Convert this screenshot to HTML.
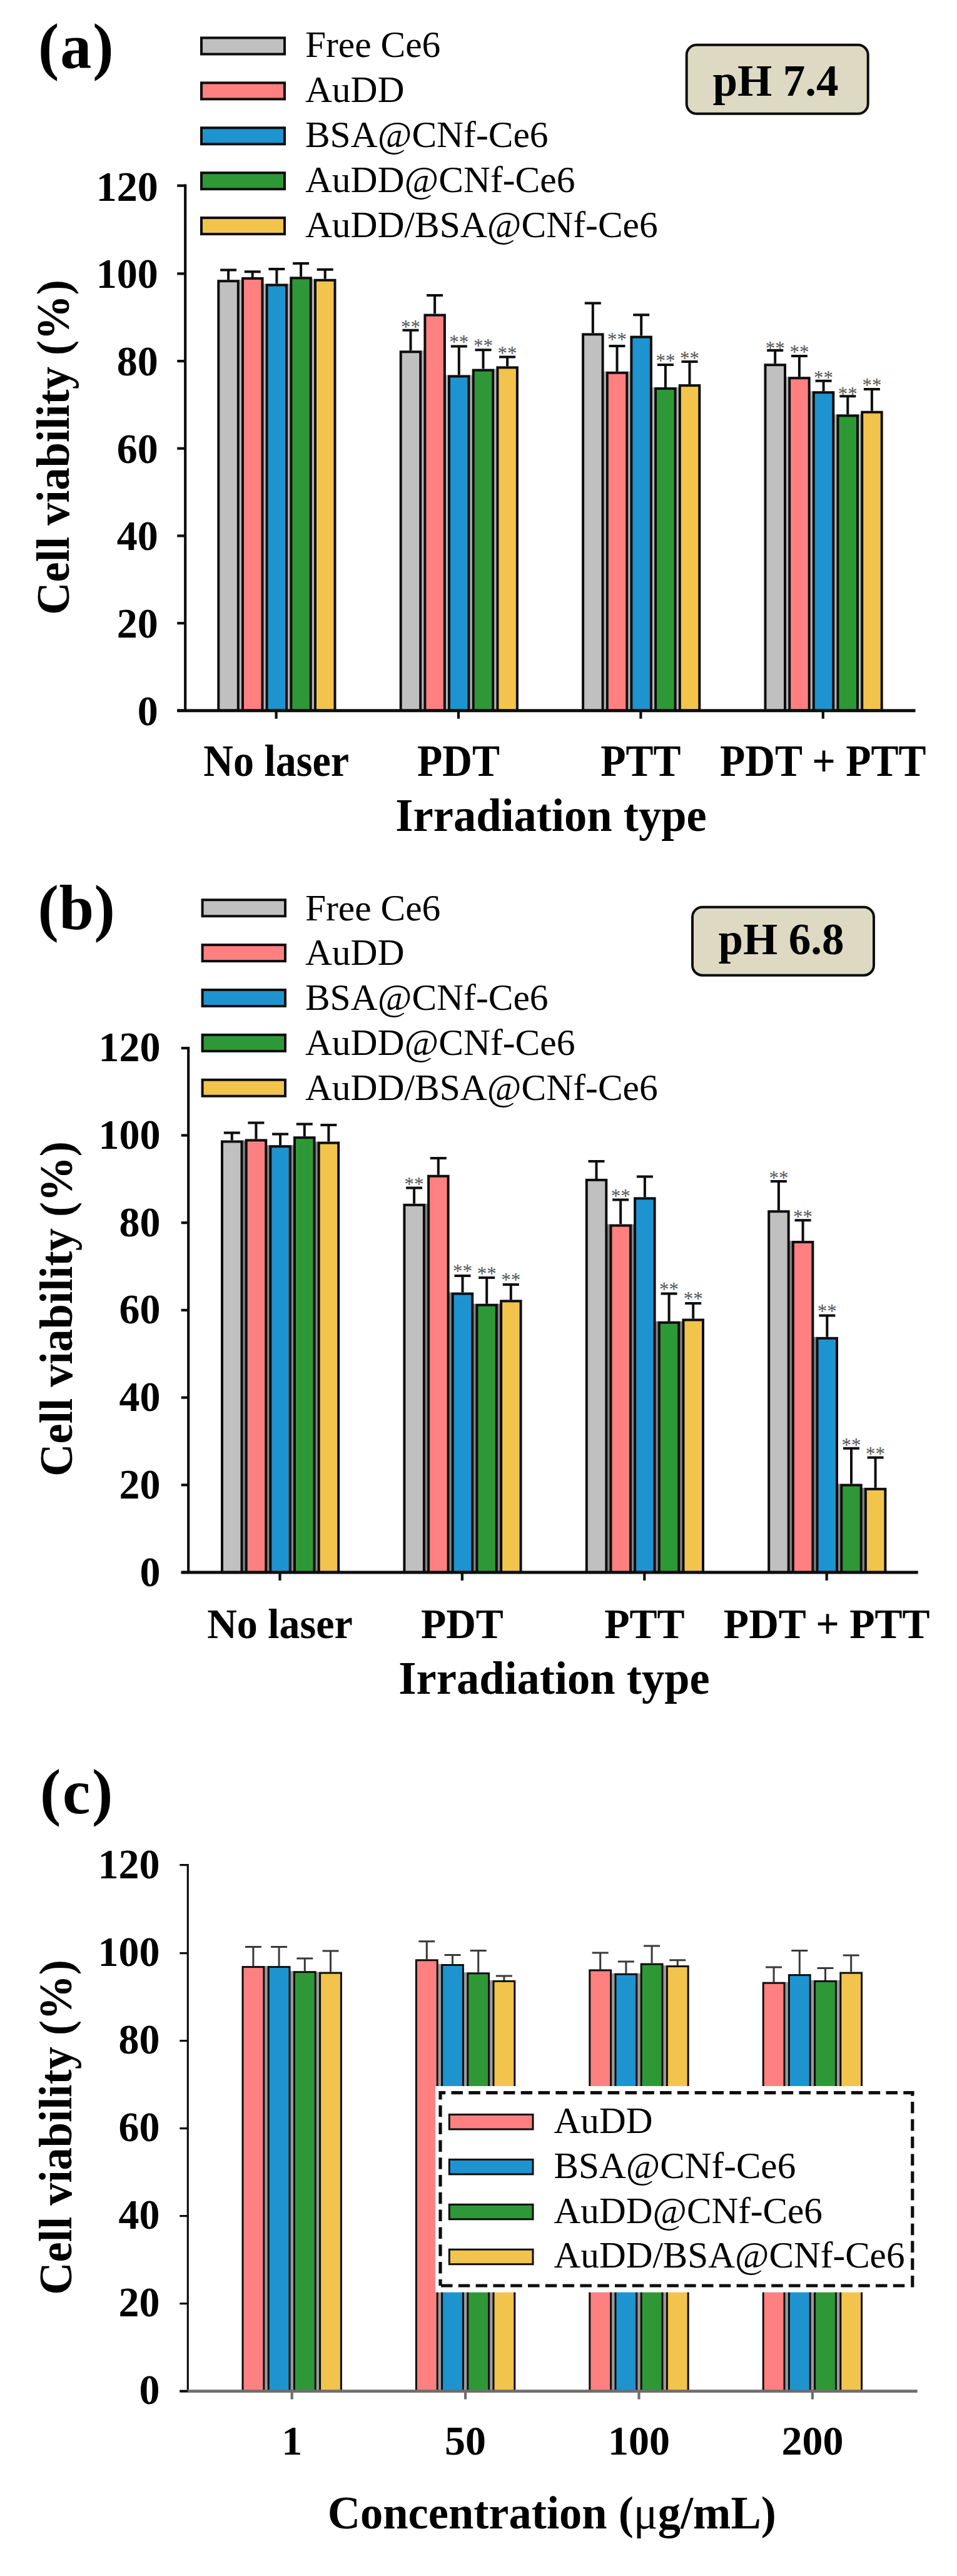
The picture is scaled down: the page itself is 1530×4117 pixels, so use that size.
<!DOCTYPE html>
<html><head><meta charset="utf-8"><title>Figure</title>
<style>
html,body{margin:0;padding:0;background:#fff}
svg{display:block}
text{font-family:"Liberation Serif",serif;fill:#000}
.tk{font-weight:bold;font-size:66px}
.ti{font-weight:bold;font-size:72.5px}
.pl{font-weight:bold;font-size:100px}
.lg{font-size:59.5px}
.ph{font-weight:bold;font-size:71px}
.st{font-size:31px;fill:#555}
.mu{font-weight:normal}
</style></head><body>
<svg width="1530" height="4117" viewBox="0 0 1530 4117">
<rect width="1530" height="4117" fill="#fff"/>
<rect x="382.3" y="447.2" width="4.2" height="688.5" fill="#b4b4b4"/>
<rect x="421.0" y="453.5" width="4.2" height="682.2" fill="#b4b4b4"/>
<rect x="459.6" y="453.5" width="4.2" height="682.2" fill="#b4b4b4"/>
<rect x="498.3" y="445.8" width="4.2" height="689.9" fill="#b4b4b4"/>
<path d="M365.1 447.2V431.4M352.1 431.4H378.1" stroke="#0d0d0d" stroke-width="4.0" fill="none"/>
<rect x="349.3" y="449.2" width="31.5" height="686.5" fill="#C0C0C0" stroke="#0d0d0d" stroke-width="4.0"/>
<path d="M403.7 443.0V434.2M390.7 434.2H416.7" stroke="#0d0d0d" stroke-width="4.0" fill="none"/>
<rect x="388.0" y="445.0" width="31.5" height="690.7" fill="#FF8080" stroke="#0d0d0d" stroke-width="4.0"/>
<path d="M442.4 453.5V430.0M429.4 430.0H455.4" stroke="#0d0d0d" stroke-width="4.0" fill="none"/>
<rect x="426.6" y="455.5" width="31.5" height="680.2" fill="#1D94D0" stroke="#0d0d0d" stroke-width="4.0"/>
<path d="M481.1 442.3V420.9M468.1 420.9H494.1" stroke="#0d0d0d" stroke-width="4.0" fill="none"/>
<rect x="465.3" y="444.3" width="31.5" height="691.4" fill="#2E9836" stroke="#0d0d0d" stroke-width="4.0"/>
<path d="M519.7 445.8V430.7M506.7 430.7H532.7" stroke="#0d0d0d" stroke-width="4.0" fill="none"/>
<rect x="504.0" y="447.8" width="31.5" height="687.9" fill="#F2C44C" stroke="#0d0d0d" stroke-width="4.0"/>
<rect x="673.7" y="560.3" width="4.2" height="575.4" fill="#b4b4b4"/>
<rect x="712.4" y="599.4" width="4.2" height="536.3" fill="#b4b4b4"/>
<rect x="751.0" y="599.4" width="4.2" height="536.3" fill="#b4b4b4"/>
<rect x="789.7" y="589.6" width="4.2" height="546.1" fill="#b4b4b4"/>
<path d="M656.5 560.3V527.8M643.5 527.8H669.5" stroke="#0d0d0d" stroke-width="4.0" fill="none"/>
<rect x="640.7" y="562.3" width="31.5" height="573.4" fill="#C0C0C0" stroke="#0d0d0d" stroke-width="4.0"/>
<text class="st" x="656.5" y="533.4" text-anchor="middle">**</text>
<path d="M695.1 501.6V471.9M682.1 471.9H708.1" stroke="#0d0d0d" stroke-width="4.0" fill="none"/>
<rect x="679.4" y="503.6" width="31.5" height="632.1" fill="#FF8080" stroke="#0d0d0d" stroke-width="4.0"/>
<path d="M733.8 599.4V553.6M720.8 553.6H746.8" stroke="#0d0d0d" stroke-width="4.0" fill="none"/>
<rect x="718.0" y="601.4" width="31.5" height="534.3" fill="#1D94D0" stroke="#0d0d0d" stroke-width="4.0"/>
<text class="st" x="733.8" y="557.1" text-anchor="middle">**</text>
<path d="M772.5 589.6V559.2M759.5 559.2H785.5" stroke="#0d0d0d" stroke-width="4.0" fill="none"/>
<rect x="756.7" y="591.6" width="31.5" height="544.1" fill="#2E9836" stroke="#0d0d0d" stroke-width="4.0"/>
<text class="st" x="772.5" y="563.1" text-anchor="middle">**</text>
<path d="M811.1 585.4V570.4M798.1 570.4H824.1" stroke="#0d0d0d" stroke-width="4.0" fill="none"/>
<rect x="795.4" y="587.4" width="31.5" height="548.3" fill="#F2C44C" stroke="#0d0d0d" stroke-width="4.0"/>
<text class="st" x="811.1" y="575.1" text-anchor="middle">**</text>
<rect x="965.1" y="593.8" width="4.2" height="541.9" fill="#b4b4b4"/>
<rect x="1003.8" y="593.8" width="4.2" height="541.9" fill="#b4b4b4"/>
<rect x="1042.4" y="619.0" width="4.2" height="516.7" fill="#b4b4b4"/>
<rect x="1081.1" y="619.0" width="4.2" height="516.7" fill="#b4b4b4"/>
<path d="M947.8 532.4V484.5M934.8 484.5H960.8" stroke="#0d0d0d" stroke-width="4.0" fill="none"/>
<rect x="932.1" y="534.4" width="31.5" height="601.3" fill="#C0C0C0" stroke="#0d0d0d" stroke-width="4.0"/>
<path d="M986.5 593.8V552.9M973.5 552.9H999.5" stroke="#0d0d0d" stroke-width="4.0" fill="none"/>
<rect x="970.8" y="595.8" width="31.5" height="539.9" fill="#FF8080" stroke="#0d0d0d" stroke-width="4.0"/>
<text class="st" x="986.5" y="553.4" text-anchor="middle">**</text>
<path d="M1025.2 536.6V503.3M1012.2 503.3H1038.2" stroke="#0d0d0d" stroke-width="4.0" fill="none"/>
<rect x="1009.4" y="538.6" width="31.5" height="597.1" fill="#1D94D0" stroke="#0d0d0d" stroke-width="4.0"/>
<path d="M1063.9 619.0V582.9M1050.9 582.9H1076.9" stroke="#0d0d0d" stroke-width="4.0" fill="none"/>
<rect x="1048.1" y="621.0" width="31.5" height="514.7" fill="#2E9836" stroke="#0d0d0d" stroke-width="4.0"/>
<text class="st" x="1063.9" y="586.8" text-anchor="middle">**</text>
<path d="M1102.5 614.1V578.1M1089.5 578.1H1115.5" stroke="#0d0d0d" stroke-width="4.0" fill="none"/>
<rect x="1086.8" y="616.1" width="31.5" height="519.6" fill="#F2C44C" stroke="#0d0d0d" stroke-width="4.0"/>
<text class="st" x="1102.5" y="582.8" text-anchor="middle">**</text>
<rect x="1256.5" y="602.2" width="4.2" height="533.5" fill="#b4b4b4"/>
<rect x="1295.2" y="625.2" width="4.2" height="510.5" fill="#b4b4b4"/>
<rect x="1333.8" y="662.3" width="4.2" height="473.4" fill="#b4b4b4"/>
<rect x="1372.5" y="662.3" width="4.2" height="473.4" fill="#b4b4b4"/>
<path d="M1239.2 581.2V559.9M1226.2 559.9H1252.2" stroke="#0d0d0d" stroke-width="4.0" fill="none"/>
<rect x="1223.5" y="583.2" width="31.5" height="552.5" fill="#C0C0C0" stroke="#0d0d0d" stroke-width="4.0"/>
<text class="st" x="1239.2" y="567.1" text-anchor="middle">**</text>
<path d="M1277.9 602.2V569.0M1264.9 569.0H1290.9" stroke="#0d0d0d" stroke-width="4.0" fill="none"/>
<rect x="1262.2" y="604.2" width="31.5" height="531.5" fill="#FF8080" stroke="#0d0d0d" stroke-width="4.0"/>
<text class="st" x="1277.9" y="573.3" text-anchor="middle">**</text>
<path d="M1316.6 625.2V608.8M1303.6 608.8H1329.6" stroke="#0d0d0d" stroke-width="4.0" fill="none"/>
<rect x="1300.8" y="627.2" width="31.5" height="508.5" fill="#1D94D0" stroke="#0d0d0d" stroke-width="4.0"/>
<text class="st" x="1316.6" y="613.5" text-anchor="middle">**</text>
<path d="M1355.3 662.3V633.2M1342.3 633.2H1368.3" stroke="#0d0d0d" stroke-width="4.0" fill="none"/>
<rect x="1339.5" y="664.3" width="31.5" height="471.4" fill="#2E9836" stroke="#0d0d0d" stroke-width="4.0"/>
<text class="st" x="1355.3" y="640.4" text-anchor="middle">**</text>
<path d="M1393.9 656.7V622.1M1380.9 622.1H1406.9" stroke="#0d0d0d" stroke-width="4.0" fill="none"/>
<rect x="1378.2" y="658.7" width="31.5" height="477.0" fill="#F2C44C" stroke="#0d0d0d" stroke-width="4.0"/>
<text class="st" x="1393.9" y="626.0" text-anchor="middle">**</text>
<path d="M296.2 294.6V1137.8" stroke="#0d0d0d" stroke-width="4.2" fill="none"/>
<path d="M283.2 1135.7H1463.5" stroke="#0d0d0d" stroke-width="5.0" fill="none"/>
<path d="M283.2 1135.7H296.2" stroke="#0d0d0d" stroke-width="4.2" fill="none"/>
<text class="tk" transform="translate(252.8 1158.7) scale(1.0 1.04)" text-anchor="end">0</text>
<path d="M283.2 996.0H296.2" stroke="#0d0d0d" stroke-width="4.2" fill="none"/>
<text class="tk" transform="translate(252.8 1019.0) scale(1.0 1.04)" text-anchor="end">20</text>
<path d="M283.2 856.4H296.2" stroke="#0d0d0d" stroke-width="4.2" fill="none"/>
<text class="tk" transform="translate(252.8 879.4) scale(1.0 1.04)" text-anchor="end">40</text>
<path d="M283.2 716.7H296.2" stroke="#0d0d0d" stroke-width="4.2" fill="none"/>
<text class="tk" transform="translate(252.8 739.7) scale(1.0 1.04)" text-anchor="end">60</text>
<path d="M283.2 577.1H296.2" stroke="#0d0d0d" stroke-width="4.2" fill="none"/>
<text class="tk" transform="translate(252.8 600.1) scale(1.0 1.04)" text-anchor="end">80</text>
<path d="M283.2 437.4H296.2" stroke="#0d0d0d" stroke-width="4.2" fill="none"/>
<text class="tk" transform="translate(252.8 460.4) scale(1.0 1.04)" text-anchor="end">100</text>
<path d="M283.2 296.7H296.2" stroke="#0d0d0d" stroke-width="4.2" fill="none"/>
<text class="tk" transform="translate(252.8 320.7) scale(1.0 1.04)" text-anchor="end">120</text>
<path d="M441.6 1135.7V1148.7" stroke="#0d0d0d" stroke-width="4.2" fill="none"/>
<text class="tk" transform="translate(441.6 1239.8) scale(1.0 1.075)" text-anchor="middle">No laser</text>
<path d="M733.0 1135.7V1148.7" stroke="#0d0d0d" stroke-width="4.2" fill="none"/>
<text class="tk" transform="translate(733.0 1239.8) scale(1.0 1.075)" text-anchor="middle">PDT</text>
<path d="M1024.4 1135.7V1148.7" stroke="#0d0d0d" stroke-width="4.2" fill="none"/>
<text class="tk" transform="translate(1024.4 1239.8) scale(1.0 1.075)" text-anchor="middle">PTT</text>
<path d="M1315.8 1135.7V1148.7" stroke="#0d0d0d" stroke-width="4.2" fill="none"/>
<text class="tk" transform="translate(1315.8 1239.8) scale(1.0 1.075)" text-anchor="middle">PDT + PTT</text>
<text class="ti" transform="translate(881.0 1327.7) scale(1.0 1.035)" text-anchor="middle">Irradiation type</text>
<text class="ti" transform="translate(110.0 715.0) rotate(-90) scale(1.0 1.035)" text-anchor="middle">Cell viability (%)</text>
<text class="pl" transform="translate(61 108) scale(1 1.02)" letter-spacing="2">(a)</text>
<rect x="322.0" y="60.5" width="133.0" height="26.0" fill="#C0C0C0" stroke="#0d0d0d" stroke-width="4.0"/>
<text class="lg" x="487.9" y="91.4">Free Ce6</text>
<rect x="322.0" y="132.4" width="133.0" height="26.0" fill="#FF8080" stroke="#0d0d0d" stroke-width="4.0"/>
<text class="lg" x="487.9" y="163.3">AuDD</text>
<rect x="322.0" y="204.3" width="133.0" height="26.0" fill="#1D94D0" stroke="#0d0d0d" stroke-width="4.0"/>
<text class="lg" x="487.9" y="235.2">BSA@CNf-Ce6</text>
<rect x="322.0" y="276.2" width="133.0" height="26.0" fill="#2E9836" stroke="#0d0d0d" stroke-width="4.0"/>
<text class="lg" x="487.9" y="307.1">AuDD@CNf-Ce6</text>
<rect x="322.0" y="348.1" width="133.0" height="26.0" fill="#F2C44C" stroke="#0d0d0d" stroke-width="4.0"/>
<text class="lg" x="487.9" y="379.0">AuDD/BSA@CNf-Ce6</text>
<rect x="1097.7" y="71.8" width="290" height="110" rx="16" ry="16" fill="#DDD9C3" stroke="#0d0d0d" stroke-width="4"/>
<text class="ph" x="1240" y="153" text-anchor="middle">pH 7.4</text>
<rect x="388.0" y="1822.5" width="4.2" height="690.5" fill="#858585"/>
<rect x="426.7" y="1830.2" width="4.2" height="682.8" fill="#858585"/>
<rect x="465.3" y="1830.2" width="4.2" height="682.8" fill="#858585"/>
<rect x="504.0" y="1824.6" width="4.2" height="688.4" fill="#858585"/>
<path d="M370.8 1822.5V1810.5M357.8 1810.5H383.8" stroke="#0d0d0d" stroke-width="4.0" fill="none"/>
<rect x="355.0" y="1824.5" width="31.5" height="688.5" fill="#C0C0C0" stroke="#0d0d0d" stroke-width="4.0"/>
<path d="M409.4 1820.4V1794.4M396.4 1794.4H422.4" stroke="#0d0d0d" stroke-width="4.0" fill="none"/>
<rect x="393.7" y="1822.4" width="31.5" height="690.6" fill="#FF8080" stroke="#0d0d0d" stroke-width="4.0"/>
<path d="M448.1 1830.2V1812.6M435.1 1812.6H461.1" stroke="#0d0d0d" stroke-width="4.0" fill="none"/>
<rect x="432.3" y="1832.2" width="31.5" height="680.8" fill="#1D94D0" stroke="#0d0d0d" stroke-width="4.0"/>
<path d="M486.8 1816.2V1796.5M473.8 1796.5H499.8" stroke="#0d0d0d" stroke-width="4.0" fill="none"/>
<rect x="471.0" y="1818.2" width="31.5" height="694.8" fill="#2E9836" stroke="#0d0d0d" stroke-width="4.0"/>
<path d="M525.4 1824.6V1797.9M512.4 1797.9H538.4" stroke="#0d0d0d" stroke-width="4.0" fill="none"/>
<rect x="509.7" y="1826.6" width="31.5" height="686.4" fill="#F2C44C" stroke="#0d0d0d" stroke-width="4.0"/>
<rect x="679.4" y="1923.8" width="4.2" height="589.2" fill="#858585"/>
<rect x="718.1" y="2065.6" width="4.2" height="447.4" fill="#858585"/>
<rect x="756.7" y="2083.7" width="4.2" height="429.3" fill="#858585"/>
<rect x="795.4" y="2083.7" width="4.2" height="429.3" fill="#858585"/>
<path d="M662.1 1923.8V1898.5M649.1 1898.5H675.1" stroke="#0d0d0d" stroke-width="4.0" fill="none"/>
<rect x="646.4" y="1925.8" width="31.5" height="587.2" fill="#C0C0C0" stroke="#0d0d0d" stroke-width="4.0"/>
<text class="st" x="662.1" y="1902.8" text-anchor="middle">**</text>
<path d="M700.8 1877.7V1851.0M687.8 1851.0H713.8" stroke="#0d0d0d" stroke-width="4.0" fill="none"/>
<rect x="685.1" y="1879.7" width="31.5" height="633.3" fill="#FF8080" stroke="#0d0d0d" stroke-width="4.0"/>
<path d="M739.5 2065.6V2038.9M726.5 2038.9H752.5" stroke="#0d0d0d" stroke-width="4.0" fill="none"/>
<rect x="723.7" y="2067.6" width="31.5" height="445.4" fill="#1D94D0" stroke="#0d0d0d" stroke-width="4.0"/>
<text class="st" x="739.5" y="2042.4" text-anchor="middle">**</text>
<path d="M778.2 2083.7V2042.1M765.2 2042.1H791.2" stroke="#0d0d0d" stroke-width="4.0" fill="none"/>
<rect x="762.4" y="2085.7" width="31.5" height="427.3" fill="#2E9836" stroke="#0d0d0d" stroke-width="4.0"/>
<text class="st" x="778.2" y="2046.0" text-anchor="middle">**</text>
<path d="M816.8 2077.4V2052.9M803.8 2052.9H829.8" stroke="#0d0d0d" stroke-width="4.0" fill="none"/>
<rect x="801.1" y="2079.4" width="31.5" height="433.6" fill="#F2C44C" stroke="#0d0d0d" stroke-width="4.0"/>
<text class="st" x="816.8" y="2055.5" text-anchor="middle">**</text>
<rect x="970.8" y="1956.6" width="4.2" height="556.4" fill="#858585"/>
<rect x="1009.5" y="1956.6" width="4.2" height="556.4" fill="#858585"/>
<rect x="1048.1" y="2111.7" width="4.2" height="401.3" fill="#858585"/>
<rect x="1086.8" y="2111.7" width="4.2" height="401.3" fill="#858585"/>
<path d="M953.5 1883.9V1856.1M940.5 1856.1H966.5" stroke="#0d0d0d" stroke-width="4.0" fill="none"/>
<rect x="937.8" y="1885.9" width="31.5" height="627.1" fill="#C0C0C0" stroke="#0d0d0d" stroke-width="4.0"/>
<path d="M992.2 1956.6V1917.4M979.2 1917.4H1005.2" stroke="#0d0d0d" stroke-width="4.0" fill="none"/>
<rect x="976.5" y="1958.6" width="31.5" height="554.4" fill="#FF8080" stroke="#0d0d0d" stroke-width="4.0"/>
<text class="st" x="992.2" y="1922.1" text-anchor="middle">**</text>
<path d="M1030.9 1913.3V1880.4M1017.9 1880.4H1043.9" stroke="#0d0d0d" stroke-width="4.0" fill="none"/>
<rect x="1015.1" y="1915.3" width="31.5" height="597.7" fill="#1D94D0" stroke="#0d0d0d" stroke-width="4.0"/>
<path d="M1069.6 2111.7V2067.6M1056.6 2067.6H1082.6" stroke="#0d0d0d" stroke-width="4.0" fill="none"/>
<rect x="1053.8" y="2113.7" width="31.5" height="399.3" fill="#2E9836" stroke="#0d0d0d" stroke-width="4.0"/>
<text class="st" x="1069.6" y="2071.1" text-anchor="middle">**</text>
<path d="M1108.2 2107.5V2082.9M1095.2 2082.9H1121.2" stroke="#0d0d0d" stroke-width="4.0" fill="none"/>
<rect x="1092.5" y="2109.5" width="31.5" height="403.5" fill="#F2C44C" stroke="#0d0d0d" stroke-width="4.0"/>
<text class="st" x="1108.2" y="2086.4" text-anchor="middle">**</text>
<rect x="1262.2" y="1983.1" width="4.2" height="529.9" fill="#858585"/>
<rect x="1300.9" y="2136.8" width="4.2" height="376.2" fill="#858585"/>
<rect x="1339.5" y="2371.5" width="4.2" height="141.5" fill="#858585"/>
<rect x="1378.2" y="2377.8" width="4.2" height="135.2" fill="#858585"/>
<path d="M1244.9 1934.2V1888.0M1231.9 1888.0H1257.9" stroke="#0d0d0d" stroke-width="4.0" fill="none"/>
<rect x="1229.2" y="1936.2" width="31.5" height="576.8" fill="#C0C0C0" stroke="#0d0d0d" stroke-width="4.0"/>
<text class="st" x="1244.9" y="1892.7" text-anchor="middle">**</text>
<path d="M1283.6 1983.1V1950.2M1270.6 1950.2H1296.6" stroke="#0d0d0d" stroke-width="4.0" fill="none"/>
<rect x="1267.9" y="1985.1" width="31.5" height="527.9" fill="#FF8080" stroke="#0d0d0d" stroke-width="4.0"/>
<text class="st" x="1283.6" y="1955.3" text-anchor="middle">**</text>
<path d="M1322.3 2136.8V2102.5M1309.3 2102.5H1335.3" stroke="#0d0d0d" stroke-width="4.0" fill="none"/>
<rect x="1306.5" y="2138.8" width="31.5" height="374.2" fill="#1D94D0" stroke="#0d0d0d" stroke-width="4.0"/>
<text class="st" x="1322.3" y="2106.4" text-anchor="middle">**</text>
<path d="M1361.0 2371.5V2314.8M1348.0 2314.8H1374.0" stroke="#0d0d0d" stroke-width="4.0" fill="none"/>
<rect x="1345.2" y="2373.5" width="31.5" height="139.5" fill="#2E9836" stroke="#0d0d0d" stroke-width="4.0"/>
<text class="st" x="1361.0" y="2320.4" text-anchor="middle">**</text>
<path d="M1399.6 2377.8V2329.5M1386.6 2329.5H1412.6" stroke="#0d0d0d" stroke-width="4.0" fill="none"/>
<rect x="1383.9" y="2379.8" width="31.5" height="133.2" fill="#F2C44C" stroke="#0d0d0d" stroke-width="4.0"/>
<text class="st" x="1399.6" y="2334.2" text-anchor="middle">**</text>
<path d="M301.2 1673.0V2515.1" stroke="#0d0d0d" stroke-width="4.2" fill="none"/>
<path d="M289.7 2513.0H1467.7" stroke="#0d0d0d" stroke-width="5.0" fill="none"/>
<path d="M289.7 2513.0H301.2" stroke="#0d0d0d" stroke-width="4.2" fill="none"/>
<text class="tk" transform="translate(256.5 2534.5) scale(1.0 1.04)" text-anchor="end">0</text>
<path d="M289.7 2373.3H301.2" stroke="#0d0d0d" stroke-width="4.2" fill="none"/>
<text class="tk" transform="translate(256.5 2394.8) scale(1.0 1.04)" text-anchor="end">20</text>
<path d="M289.7 2233.6H301.2" stroke="#0d0d0d" stroke-width="4.2" fill="none"/>
<text class="tk" transform="translate(256.5 2255.1) scale(1.0 1.04)" text-anchor="end">40</text>
<path d="M289.7 2093.9H301.2" stroke="#0d0d0d" stroke-width="4.2" fill="none"/>
<text class="tk" transform="translate(256.5 2115.4) scale(1.0 1.04)" text-anchor="end">60</text>
<path d="M289.7 1954.2H301.2" stroke="#0d0d0d" stroke-width="4.2" fill="none"/>
<text class="tk" transform="translate(256.5 1975.7) scale(1.0 1.04)" text-anchor="end">80</text>
<path d="M289.7 1814.5H301.2" stroke="#0d0d0d" stroke-width="4.2" fill="none"/>
<text class="tk" transform="translate(256.5 1836.0) scale(1.0 1.04)" text-anchor="end">100</text>
<path d="M289.7 1675.1H301.2" stroke="#0d0d0d" stroke-width="4.2" fill="none"/>
<text class="tk" transform="translate(256.5 1696.3) scale(1.0 1.04)" text-anchor="end">120</text>
<path d="M447.5 2513.0V2526.0" stroke="#0d0d0d" stroke-width="4.2" fill="none"/>
<text class="tk" transform="translate(447.5 2618.2) scale(1.0 1.03)" text-anchor="middle">No laser</text>
<path d="M738.9 2513.0V2526.0" stroke="#0d0d0d" stroke-width="4.2" fill="none"/>
<text class="tk" transform="translate(738.9 2618.2) scale(1.0 1.03)" text-anchor="middle">PDT</text>
<path d="M1030.3 2513.0V2526.0" stroke="#0d0d0d" stroke-width="4.2" fill="none"/>
<text class="tk" transform="translate(1030.3 2618.2) scale(1.0 1.03)" text-anchor="middle">PTT</text>
<path d="M1321.7 2513.0V2526.0" stroke="#0d0d0d" stroke-width="4.2" fill="none"/>
<text class="tk" transform="translate(1321.7 2618.2) scale(1.0 1.03)" text-anchor="middle">PDT + PTT</text>
<text class="ti" transform="translate(886.0 2707.0) scale(1.0 1.035)" text-anchor="middle">Irradiation type</text>
<text class="ti" transform="translate(114.5 2092.0) rotate(-90) scale(1.0 1.035)" text-anchor="middle">Cell viability (%)</text>
<text class="pl" transform="translate(60.5 1485) scale(1 1.02)" letter-spacing="0.6">(b)</text>
<rect x="323.6" y="1438.2" width="132.4" height="26.0" fill="#C0C0C0" stroke="#0d0d0d" stroke-width="4.0"/>
<text class="lg" x="487.9" y="1470.5">Free Ce6</text>
<rect x="323.6" y="1510.1" width="132.4" height="26.0" fill="#FF8080" stroke="#0d0d0d" stroke-width="4.0"/>
<text class="lg" x="487.9" y="1542.4">AuDD</text>
<rect x="323.6" y="1582.0" width="132.4" height="26.0" fill="#1D94D0" stroke="#0d0d0d" stroke-width="4.0"/>
<text class="lg" x="487.9" y="1614.3">BSA@CNf-Ce6</text>
<rect x="323.6" y="1653.9" width="132.4" height="26.0" fill="#2E9836" stroke="#0d0d0d" stroke-width="4.0"/>
<text class="lg" x="487.9" y="1686.2">AuDD@CNf-Ce6</text>
<rect x="323.6" y="1725.8" width="132.4" height="26.0" fill="#F2C44C" stroke="#0d0d0d" stroke-width="4.0"/>
<text class="lg" x="487.9" y="1758.1">AuDD/BSA@CNf-Ce6</text>
<rect x="1107" y="1449.7" width="290" height="109" rx="16" ry="16" fill="#DDD9C3" stroke="#0d0d0d" stroke-width="4"/>
<text class="ph" x="1249" y="1524.5" text-anchor="middle">pH 6.8</text>
<rect x="422.8" y="3142.1" width="5.4" height="679.5" fill="#9a9a9a"/>
<rect x="464.0" y="3150.2" width="5.4" height="671.4" fill="#9a9a9a"/>
<rect x="505.2" y="3151.6" width="5.4" height="670.0" fill="#9a9a9a"/>
<path d="M404.9 3142.1V3111.4M391.9 3111.4H417.9" stroke="#3a3a3a" stroke-width="3.0" fill="none"/>
<rect x="388.0" y="3143.6" width="33.8" height="678.0" fill="#FF8080" stroke="#0d0d0d" stroke-width="3.0"/>
<path d="M446.1 3142.1V3111.4M433.1 3111.4H459.1" stroke="#3a3a3a" stroke-width="3.0" fill="none"/>
<rect x="429.2" y="3143.6" width="33.8" height="678.0" fill="#1D94D0" stroke="#0d0d0d" stroke-width="3.0"/>
<path d="M487.3 3150.2V3130.0M474.3 3130.0H500.3" stroke="#3a3a3a" stroke-width="3.0" fill="none"/>
<rect x="470.4" y="3151.7" width="33.8" height="669.9" fill="#2E9836" stroke="#0d0d0d" stroke-width="3.0"/>
<path d="M528.5 3151.6V3118.1M515.5 3118.1H541.5" stroke="#3a3a3a" stroke-width="3.0" fill="none"/>
<rect x="511.6" y="3153.1" width="33.8" height="668.5" fill="#F2C44C" stroke="#0d0d0d" stroke-width="3.0"/>
<rect x="700.2" y="3139.0" width="5.4" height="682.6" fill="#9a9a9a"/>
<rect x="741.4" y="3152.3" width="5.4" height="669.3" fill="#9a9a9a"/>
<rect x="782.6" y="3164.9" width="5.4" height="656.7" fill="#9a9a9a"/>
<path d="M682.3 3131.3V3102.7M669.3 3102.7H695.3" stroke="#3a3a3a" stroke-width="3.0" fill="none"/>
<rect x="665.4" y="3132.8" width="33.8" height="688.8" fill="#FF8080" stroke="#0d0d0d" stroke-width="3.0"/>
<path d="M723.5 3139.0V3124.4M710.5 3124.4H736.5" stroke="#3a3a3a" stroke-width="3.0" fill="none"/>
<rect x="706.6" y="3140.5" width="33.8" height="681.1" fill="#1D94D0" stroke="#0d0d0d" stroke-width="3.0"/>
<path d="M764.7 3152.3V3117.4M751.7 3117.4H777.7" stroke="#3a3a3a" stroke-width="3.0" fill="none"/>
<rect x="747.8" y="3153.8" width="33.8" height="667.8" fill="#2E9836" stroke="#0d0d0d" stroke-width="3.0"/>
<path d="M805.9 3164.9V3158.0M792.9 3158.0H818.9" stroke="#3a3a3a" stroke-width="3.0" fill="none"/>
<rect x="789.0" y="3166.4" width="33.8" height="655.2" fill="#F2C44C" stroke="#0d0d0d" stroke-width="3.0"/>
<rect x="977.6" y="3153.7" width="5.4" height="667.9" fill="#9a9a9a"/>
<rect x="1018.8" y="3153.7" width="5.4" height="667.9" fill="#9a9a9a"/>
<rect x="1060.0" y="3141.1" width="5.4" height="680.5" fill="#9a9a9a"/>
<path d="M959.7 3147.4V3120.9M946.7 3120.9H972.7" stroke="#3a3a3a" stroke-width="3.0" fill="none"/>
<rect x="942.8" y="3148.9" width="33.8" height="672.7" fill="#FF8080" stroke="#0d0d0d" stroke-width="3.0"/>
<path d="M1000.9 3153.7V3134.9M987.9 3134.9H1013.9" stroke="#3a3a3a" stroke-width="3.0" fill="none"/>
<rect x="984.0" y="3155.2" width="33.8" height="666.4" fill="#1D94D0" stroke="#0d0d0d" stroke-width="3.0"/>
<path d="M1042.1 3137.6V3110.1M1029.1 3110.1H1055.1" stroke="#3a3a3a" stroke-width="3.0" fill="none"/>
<rect x="1025.2" y="3139.1" width="33.8" height="682.5" fill="#2E9836" stroke="#0d0d0d" stroke-width="3.0"/>
<path d="M1083.3 3141.1V3132.8M1070.3 3132.8H1096.3" stroke="#3a3a3a" stroke-width="3.0" fill="none"/>
<rect x="1066.4" y="3142.6" width="33.8" height="679.0" fill="#F2C44C" stroke="#0d0d0d" stroke-width="3.0"/>
<rect x="1255.0" y="3167.7" width="5.4" height="653.9" fill="#9a9a9a"/>
<rect x="1296.2" y="3164.9" width="5.4" height="656.7" fill="#9a9a9a"/>
<rect x="1337.4" y="3164.9" width="5.4" height="656.7" fill="#9a9a9a"/>
<path d="M1237.1 3167.7V3144.0M1224.1 3144.0H1250.1" stroke="#3a3a3a" stroke-width="3.0" fill="none"/>
<rect x="1220.2" y="3169.2" width="33.8" height="652.4" fill="#FF8080" stroke="#0d0d0d" stroke-width="3.0"/>
<path d="M1278.3 3155.1V3117.4M1265.3 3117.4H1291.3" stroke="#3a3a3a" stroke-width="3.0" fill="none"/>
<rect x="1261.4" y="3156.6" width="33.8" height="665.0" fill="#1D94D0" stroke="#0d0d0d" stroke-width="3.0"/>
<path d="M1319.5 3164.9V3145.4M1306.5 3145.4H1332.5" stroke="#3a3a3a" stroke-width="3.0" fill="none"/>
<rect x="1302.6" y="3166.4" width="33.8" height="655.2" fill="#2E9836" stroke="#0d0d0d" stroke-width="3.0"/>
<path d="M1360.7 3151.6V3125.1M1347.7 3125.1H1373.7" stroke="#3a3a3a" stroke-width="3.0" fill="none"/>
<rect x="1343.8" y="3153.1" width="33.8" height="668.5" fill="#F2C44C" stroke="#0d0d0d" stroke-width="3.0"/>
<path d="M300.3 2979.0V3823.2" stroke="#0d0d0d" stroke-width="3.2" fill="none"/>
<path d="M287.3 3821.6H1466.7" stroke="#6e6e6e" stroke-width="4.6" fill="none"/>
<path d="M287.3 3821.6H300.3" stroke="#0d0d0d" stroke-width="3.2" fill="none"/>
<text class="tk" transform="translate(255.5 3842.0) scale(1.0 1.01)" text-anchor="end">0</text>
<path d="M287.3 3681.6H300.3" stroke="#0d0d0d" stroke-width="3.2" fill="none"/>
<text class="tk" transform="translate(255.5 3702.0) scale(1.0 1.01)" text-anchor="end">20</text>
<path d="M287.3 3541.6H300.3" stroke="#0d0d0d" stroke-width="3.2" fill="none"/>
<text class="tk" transform="translate(255.5 3562.0) scale(1.0 1.01)" text-anchor="end">40</text>
<path d="M287.3 3401.6H300.3" stroke="#0d0d0d" stroke-width="3.2" fill="none"/>
<text class="tk" transform="translate(255.5 3422.0) scale(1.0 1.01)" text-anchor="end">60</text>
<path d="M287.3 3261.6H300.3" stroke="#0d0d0d" stroke-width="3.2" fill="none"/>
<text class="tk" transform="translate(255.5 3282.0) scale(1.0 1.01)" text-anchor="end">80</text>
<path d="M287.3 3121.6H300.3" stroke="#0d0d0d" stroke-width="3.2" fill="none"/>
<text class="tk" transform="translate(255.5 3142.0) scale(1.0 1.01)" text-anchor="end">100</text>
<path d="M287.3 2980.6H300.3" stroke="#0d0d0d" stroke-width="3.2" fill="none"/>
<text class="tk" transform="translate(255.5 3002.0) scale(1.0 1.01)" text-anchor="end">120</text>
<path d="M466.7 3821.6V3834.6" stroke="#6e6e6e" stroke-width="4.2" fill="none"/>
<text class="tk" transform="translate(466.7 3923.0)" text-anchor="middle">1</text>
<path d="M744.1 3821.6V3834.6" stroke="#6e6e6e" stroke-width="4.2" fill="none"/>
<text class="tk" transform="translate(744.1 3923.0)" text-anchor="middle">50</text>
<path d="M1021.5 3821.6V3834.6" stroke="#6e6e6e" stroke-width="4.2" fill="none"/>
<text class="tk" transform="translate(1021.5 3923.0)" text-anchor="middle">100</text>
<path d="M1298.9 3821.6V3834.6" stroke="#6e6e6e" stroke-width="4.2" fill="none"/>
<text class="tk" transform="translate(1298.9 3923.0)" text-anchor="middle">200</text>
<text class="ti" transform="translate(882.3 4040.7) scale(1.0 1.035)" text-anchor="middle">Concentration (<tspan class="mu">μ</tspan>g/mL)</text>
<text class="ti" transform="translate(114.0 3400.0) rotate(-90) scale(1.0 1.035)" text-anchor="middle">Cell viability (%)</text>
<text class="pl" transform="translate(64 2898) scale(1 1.02)" letter-spacing="2.7">(c)</text>
<rect x="695.9" y="3334" width="772" height="329.6" fill="#fff"/>
<path d="M704 3344.6H1461.4" stroke="#0d0d0d" stroke-width="5.2" fill="none" stroke-dasharray="18.5 9.3" stroke-dashoffset="10.3"/>
<path d="M704 3342V3653" stroke="#0d0d0d" stroke-width="5.2" fill="none" stroke-dasharray="18.5 9.3" stroke-dashoffset="5.0"/>
<path d="M1458.8 3655.6V3342" stroke="#0d0d0d" stroke-width="5.2" fill="none" stroke-dasharray="18.5 9.3"/>
<path d="M1446.3 3653H701.4" stroke="#0d0d0d" stroke-width="5.2" fill="none" stroke-dasharray="18.5 9.3"/>
<rect x="718.3" y="3379.5" width="133.7" height="23.5" fill="#FF8080" stroke="#0d0d0d" stroke-width="3.0"/>
<text class="lg" x="885.6" y="3408.8" style="font-size:59.2px">AuDD</text>
<rect x="718.3" y="3451.4" width="133.7" height="23.5" fill="#1D94D0" stroke="#0d0d0d" stroke-width="3.0"/>
<text class="lg" x="885.6" y="3480.7" style="font-size:59.2px">BSA@CNf-Ce6</text>
<rect x="718.3" y="3523.3" width="133.7" height="23.5" fill="#2E9836" stroke="#0d0d0d" stroke-width="3.0"/>
<text class="lg" x="885.6" y="3552.6" style="font-size:59.2px">AuDD@CNf-Ce6</text>
<rect x="718.3" y="3595.2" width="133.7" height="23.5" fill="#F2C44C" stroke="#0d0d0d" stroke-width="3.0"/>
<text class="lg" x="885.6" y="3624.4" style="font-size:59.2px">AuDD/BSA@CNf-Ce6</text>
</svg>
</body></html>
